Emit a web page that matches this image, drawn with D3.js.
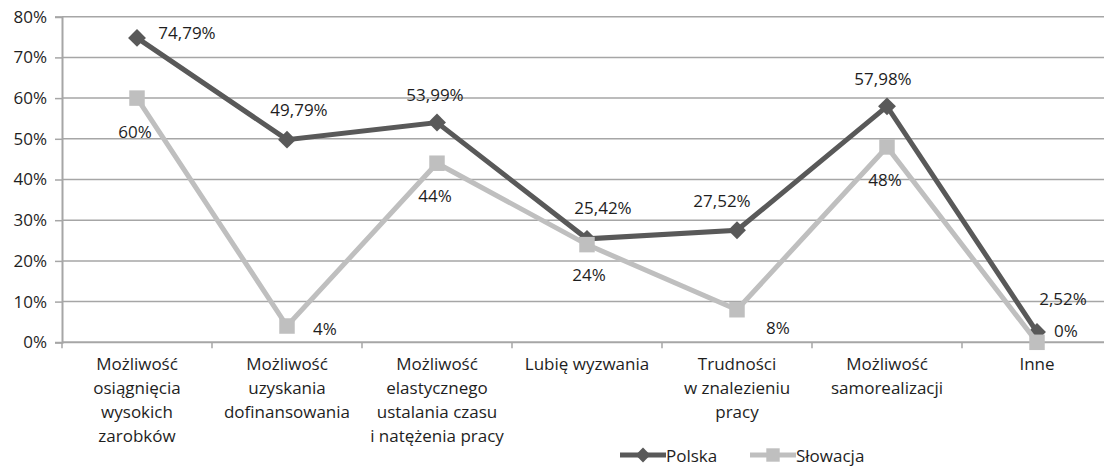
<!DOCTYPE html>
<html>
<head>
<meta charset="utf-8">
<script src="https://cdn.jsdelivr.net/npm/d3@7"></script>
<style>
  body { margin: 0; background: #fff; }
  svg text { font-family: "Open Sans", sans-serif; fill: #1e1e1e; }
</style>
</head>
<body>
<div id="chart"></div>
<script>
'use strict';

// categories (wrapped the way they are on the chart)
const categories = [
  ["Możliwość", "osiągnięcia", "wysokich", "zarobków"],
  ["Możliwość", "uzyskania", "dofinansowania"],
  ["Możliwość", "elastycznego", "ustalania czasu", "i natężenia pracy"],
  ["Lubię wyzwania"],
  ["Trudności", "w znalezieniu", "pracy"],
  ["Możliwość", "samorealizacji"],
  ["Inne"]
];
const polska   = [74.79, 49.79, 53.99, 25.42, 27.52, 57.98, 2.52];
const slowacja = [60, 4, 44, 24, 8, 48, 0];
const yTicks   = [0, 10, 20, 30, 40, 50, 60, 70, 80];

// where each data label sits relative to its point (dx, dy)
const polskaLabelOff   = [[50, -5], [12, -30], [-2, -28], [16, -31], [-15, -30], [-4, -28], [26, -34]];
const slowacjaLabelOff = [[-2, 33], [38, 2], [-2, 32], [2, 30], [41, 18], [-2, 33], [29, -12]];

const width = 1104, height = 467;
const margin = {top: 16.7, left: 62, bottom: 124.7};
const bandW = 150;

const colPL = "#595959", colSK = "#bfbfbf", colGrid = "#a6a6a6";

const svg = d3.select("#chart").append("svg")
  .attr("width", width)
  .attr("height", height);

const keys = categories.map((c, i) => "c" + i);

let x = d3.scaleBand()
  .domain(keys)
  .range([margin.left, margin.left + bandW * keys.length]);

let y = d3.scaleLinear()
  .domain([0, 80])
  .range([height - margin.bottom, margin.top]);

const fmt = v => String(v).replace(".", ",") + "%";

// gridlines
svg.append("g").selectAll("line")
  .data(yTicks.slice(1))
  .enter().append("line")
  .attr("x1", margin.left).attr("x2", width)
  .attr("y1", d => y(d)).attr("y2", d => y(d))
  .style("stroke", colGrid).style("stroke-width", 1.5);

// y axis
let yAxis = svg.append("g")
  .attr("transform", "translate(" + margin.left + ",0)")
  .call(d3.axisLeft(y).tickValues(yTicks).tickSize(7).tickPadding(8)
    .tickFormat(d => d + "%"));
yAxis.select(".domain").style("stroke", colGrid).style("stroke-width", 2);
yAxis.selectAll(".tick line").style("stroke", colGrid).style("stroke-width", 1.5);
yAxis.selectAll(".tick text")
  .style("font-size", "17px")
  .style("fill", "#1e1e1e")
  .style("font-family", "Open Sans, sans-serif");

// x axis baseline + boundary ticks
svg.append("line")
  .attr("x1", margin.left).attr("x2", width)
  .attr("y1", y(0)).attr("y2", y(0))
  .style("stroke", colGrid).style("stroke-width", 2);

svg.append("g").selectAll("line")
  .data(keys)
  .enter().append("line")
  .attr("x1", d => x(d)).attr("x2", d => x(d))
  .attr("y1", y(0)).attr("y2", y(0) + 6)
  .style("stroke", colGrid).style("stroke-width", 1.5);

// category labels
let catG = svg.append("g").selectAll("text")
  .data(categories)
  .enter().append("text")
  .attr("text-anchor", "middle")
  .style("font-size", "17px")
  .attr("transform", (d, i) => "translate(" + (x(keys[i]) + bandW / 2) + "," + (y(0) + 28) + ")");
catG.selectAll("tspan")
  .data(d => d)
  .enter().append("tspan")
  .attr("x", 0)
  .attr("dy", (d, i) => i == 0 ? 0 : 24)
  .text(d => d);

const cx = i => x(keys[i]) + bandW / 2;

function drawSeries(values, color, marker, offs){
  let line = d3.line()
    .x((d, i) => cx(i))
    .y(d => y(d));

  svg.append("path")
    .datum(values)
    .attr("d", line)
    .style("fill", "none")
    .style("stroke", color)
    .style("stroke-width", 5)
    .style("stroke-linejoin", "miter");

  let sym = d3.symbol().type(d3.symbolSquare)
    .size(marker == "diamond" ? 160 : 240);

  svg.append("g").selectAll("path")
    .data(values)
    .enter().append("path")
    .attr("d", sym)
    .attr("transform", (d, i) => "translate(" + cx(i) + "," + y(d) + ")" + (marker == "diamond" ? " rotate(45)" : ""))
    .style("fill", color);

  svg.append("g").selectAll("text")
    .data(values)
    .enter().append("text")
    .attr("x", (d, i) => cx(i) + offs[i][0])
    .attr("y", (d, i) => y(d) + offs[i][1])
    .attr("text-anchor", "middle")
    .attr("dominant-baseline", "central")
    .style("font-size", "17px")
    .text(d => fmt(d));
}

drawSeries(polska, colPL, "diamond", polskaLabelOff);
drawSeries(slowacja, colSK, "square", slowacjaLabelOff);

// legend
const legend = [
  {name: "Polska", color: colPL, marker: "diamond", x: 620},
  {name: "Słowacja", color: colSK, marker: "square", x: 750}
];
let lg = svg.append("g").selectAll("g")
  .data(legend)
  .enter().append("g")
  .attr("transform", d => "translate(" + d.x + ",455)");
lg.append("line")
  .attr("x1", 0).attr("x2", 46)
  .style("stroke", d => d.color).style("stroke-width", 5);
lg.append("path")
  .attr("d", d => d3.symbol().type(d3.symbolSquare).size(d.marker == "diamond" ? 110 : 180)())
  .attr("transform", d => "translate(23,0)" + (d.marker == "diamond" ? " rotate(45)" : ""))
  .style("fill", d => d.color);
lg.append("text")
  .attr("x", 46)
  .attr("dominant-baseline", "central")
  .style("font-size", "17px")
  .text(d => d.name);
</script>
</body>
</html>
